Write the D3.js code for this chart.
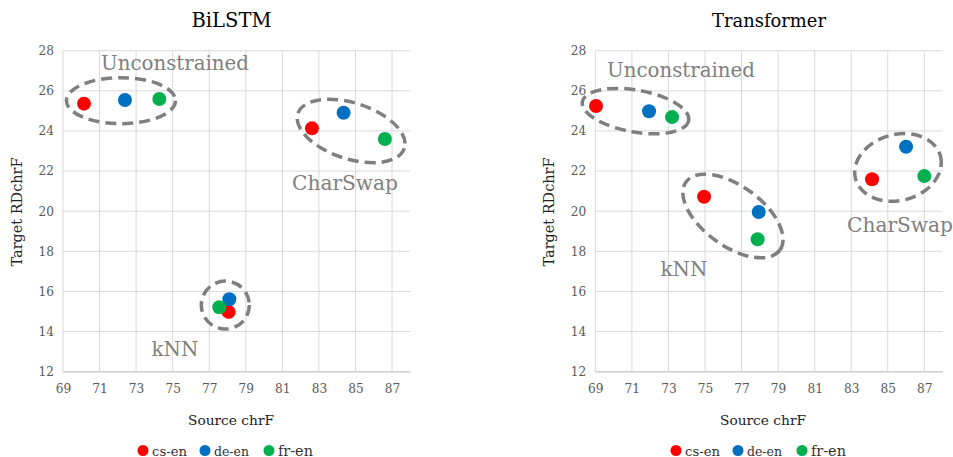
<!DOCTYPE html>
<html>
<head>
<meta charset="utf-8">
<script src="https://cdn.jsdelivr.net/npm/d3@7"></script>
<style>
  body { margin: 0; background: #fff; }
</style>
</head>
<body>
<div class="chart"></div>
<script>
// data
var series = ["cs-en", "de-en", "fr-en"];
var colors = ["#ff0000", "#0070c0", "#00b050"];
var xTicks = [69, 71, 73, 75, 77, 79, 81, 83, 85, 87];
var yTicks = [12, 14, 16, 18, 20, 22, 24, 26, 28];

// BiLSTM: [source chrF, target RDchrF] for cs-en, de-en, fr-en
var bilstmUnconstrained = [[70.15, 25.36], [72.39, 25.54], [74.27, 25.59]];
var bilstmCharSwap = [[82.62, 24.13], [84.35, 24.91], [86.61, 23.6]];
var bilstmKnn = [[78.06, 14.98], [78.1, 15.61], [77.55, 15.21]];

// Transformer
var transUnconstrained = [[69.04, 25.24], [71.94, 24.98], [73.2, 24.69]];
var transKnn = [[74.95, 20.72], [77.94, 19.96], [77.88, 18.6]];
var transCharSwap = [[84.14, 21.59], [86.0, 23.21], [87.0, 21.75]];

var FONT = "'DejaVu Serif', serif";
var svgWidth = 953;
var svgHeight = 457;

var svg = d3.select(".chart")
  .append("svg")
  .attr("width", svgWidth)
  .attr("height", svgHeight);

// scale a text's font size so it spans about `w` pixels
function fit(sel, w) {
  sel.each(function() {
    var t = d3.select(this).style("font-size", "20px");
    var len = this.getComputedTextLength();
    t.style("font-size", (20 * w / len).toFixed(2) + "px");
  });
}

var yScale = d3.scaleLinear().domain([12, 28]).range([371.7, 50.7]);

var panels = [
  {
    title: "BiLSTM", titleW: 80, titleX: 231.5, left: 63, cx: 231, legendCx: 229,
    groups: [bilstmUnconstrained, bilstmCharSwap, bilstmKnn],
    rings: [
      {c: [72.17, 25.51], rx: 54.5, ry: 23, rot: 0},
      {c: [84.76, 24.0], rx: 56, ry: 28, rot: 18},
      {c: [77.88, 15.32], rx: 24, ry: 24, rot: 0}
    ],
    labels: [
      {t: "Unconstrained", x: 175, y: 70},
      {t: "CharSwap", x: 345, y: 190},
      {t: "kNN", x: 175, y: 356}
    ]
  },
  {
    title: "Transformer", titleW: 114, titleX: 769, left: 595.3, cx: 763, legendCx: 762,
    groups: [transUnconstrained, transKnn, transCharSwap],
    rings: [
      {c: [71.2, 24.99], rx: 54, ry: 21, rot: 10},
      {c: [76.53, 19.76], rx: 58, ry: 30, rot: 36},
      {c: [85.56, 22.18], rx: 44, ry: 33, rot: -15}
    ],
    labels: [
      {t: "Unconstrained", x: 681, y: 77},
      {t: "kNN", x: 684, y: 276},
      {t: "CharSwap", x: 900, y: 232}
    ]
  }
];

panels.forEach(function(p) {
  var xScale = d3.scaleLinear().domain([69, 88]).range([p.left, p.left + 19 * 18.28]);
  var g = svg.append("g");

  // gridlines
  g.selectAll(null).data(xTicks).enter().append("line")
    .attr("x1", d => xScale(d)).attr("x2", d => xScale(d))
    .attr("y1", yScale(28)).attr("y2", yScale(12))
    .attr("stroke", "#d9d9d9").attr("stroke-width", 1);
  g.selectAll(null).data(yTicks).enter().append("line")
    .attr("x1", xScale(69)).attr("x2", xScale(88))
    .attr("y1", d => yScale(d)).attr("y2", d => yScale(d))
    .attr("stroke", "#d9d9d9").attr("stroke-width", 1);
  g.append("line")
    .attr("x1", xScale(69)).attr("x2", xScale(88))
    .attr("y1", yScale(12)).attr("y2", yScale(12))
    .attr("stroke", "#cfcfcf").attr("stroke-width", 1.5);

  // axes
  var bottomAxis = d3.axisBottom(xScale).tickValues(xTicks).tickSize(0).tickPadding(13);
  var leftAxis = d3.axisLeft(yScale).tickValues(yTicks).tickSize(0).tickPadding(9);
  var xa = g.append("g").attr("transform", `translate(0, ${yScale(12)})`).call(bottomAxis);
  var ya = g.append("g").attr("transform", `translate(${xScale(69)}, 0)`).call(leftAxis);
  [xa, ya].forEach(function(a) {
    a.attr("font-family", null).attr("font-size", null);
    a.select(".domain").remove();
    a.selectAll("text")
      .style("font-family", FONT)
      .style("fill", "#595959");
    fit(a.selectAll("text"), 15.5);
  });

  // title and axis labels
  g.append("text")
    .attr("x", p.titleX).attr("y", 27)
    .attr("text-anchor", "middle")
    .style("font-family", FONT).style("fill", "#000")
    .text(p.title)
    .call(fit, p.titleW);
  g.append("text")
    .attr("x", p.cx).attr("y", 425)
    .attr("text-anchor", "middle")
    .style("font-family", FONT).style("fill", "#222")
    .text("Source chrF")
    .call(fit, 86);
  g.append("text")
    .attr("transform", `translate(${p.left - 41}, 212) rotate(-90)`)
    .attr("text-anchor", "middle")
    .style("font-family", FONT).style("fill", "#222")
    .text("Target RDchrF")
    .call(fit, 109);

  // dashed ellipses
  p.rings.forEach(function(r) {
    var ex = xScale(r.c[0]), ey = yScale(r.c[1]);
    g.append("ellipse")
      .attr("cx", 0).attr("cy", 0)
      .attr("rx", r.rx).attr("ry", r.ry)
      .attr("transform", `translate(${ex}, ${ey}) rotate(${r.rot})`)
      .attr("fill", "none")
      .attr("stroke", "#7f7f7f")
      .attr("stroke-width", 3.5)
      .attr("stroke-dasharray", "11,6");
  });

  // points
  p.groups.forEach(function(grp) {
    g.selectAll(null).data(grp).enter().append("circle")
      .attr("cx", d => xScale(d[0]))
      .attr("cy", d => yScale(d[1]))
      .attr("r", 7)
      .attr("fill", (d, i) => colors[i]);
  });

  // group labels
  var widths = {"Unconstrained": 148, "CharSwap": 106, "kNN": 47};
  g.selectAll(null).data(p.labels).enter().append("text")
    .attr("x", d => d.x).attr("y", d => d.y)
    .attr("text-anchor", "middle")
    .style("font-family", FONT)
    .style("fill", "#808080")
    .text(d => d.t)
    .each(function(d) { fit(d3.select(this), widths[d.t]); });

  // legend
  var legendX = [p.legendCx - 86, p.legendCx - 24, p.legendCx + 40];
  var lg = g.selectAll(null).data(series).enter().append("g")
    .attr("transform", (d, i) => `translate(${legendX[i]}, 450.5)`);
  lg.append("circle").attr("r", 5.5).attr("fill", (d, i) => colors[i]);
  lg.append("text").attr("x", 9).attr("y", 5)
    .style("font-family", FONT).style("fill", "#333")
    .text(d => d)
    .call(fit, 35);
});
</script>
</body>
</html>
